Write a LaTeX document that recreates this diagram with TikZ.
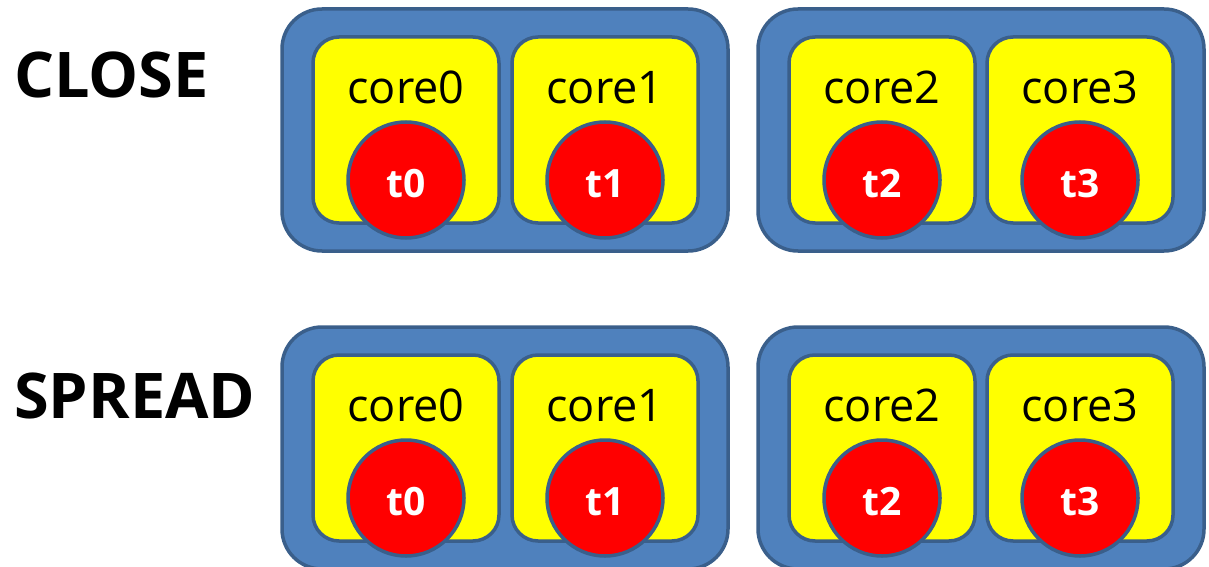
\documentclass[tikz,border=0pt]{standalone}
\usepackage{fontspec}
\setmainfont{Open Sans}
\definecolor{boxblue}{HTML}{4F81BD}
\definecolor{edgeblue}{HTML}{3A5F8B}
\definecolor{coreyellow}{HTML}{FFFF00}
\definecolor{threadred}{HTML}{FF0000}
\begin{document}
\begin{tikzpicture}[x=1pt,y=-1pt,
  groupbox/.style={draw=edgeblue,fill=boxblue,line width=3.5pt,rounded corners=40pt,
    minimum width=446pt,minimum height=242pt,inner sep=0pt},
  corebox/.style={draw=edgeblue,fill=coreyellow,line width=3.5pt,rounded corners=26pt,
    minimum width=186pt,minimum height=186pt,inner sep=0pt},
  thread/.style={circle,draw=edgeblue,fill=threadred,line width=3.5pt,
    minimum size=116pt,inner sep=0pt},
  corelabel/.style={anchor=base,inner sep=0pt,font=\fontsize{45}{50}\selectfont},
  threadlabel/.style={anchor=base,inner sep=0pt,text=white,font=\bfseries\fontsize{39}{44}\selectfont},
  title/.style={anchor=base west,inner sep=0pt,font=\bfseries\fontsize{63}{70}\selectfont}]
\useasboundingbox (0,0) rectangle (1209,567);
\node[title] (close) at (14,98) {CLOSE};
\node[title] (spread) at (14,418) {SPREAD};
\foreach \r/\dy in {0/0,1/318}{
  \foreach \g/\gx in {0/505,1/981}{
    \node[groupbox] (grp-\r-\g) at (\gx,130+\dy) {};
  }
  \foreach \k/\cx in {0/406,1/605,2/882,3/1080}{
    \node[corebox] (core-\r-\k) at (\cx,130+\dy) {};
    \node[corelabel] (clabel-\r-\k) at (\cx,103+\dy) {core\k};
    \node[thread] (t-\r-\k) at (\cx,180+\dy) {};
    \node[threadlabel] (tlabel-\r-\k) at (\cx,197+\dy) {t\k};
  }
}
\end{tikzpicture}
\end{document}
